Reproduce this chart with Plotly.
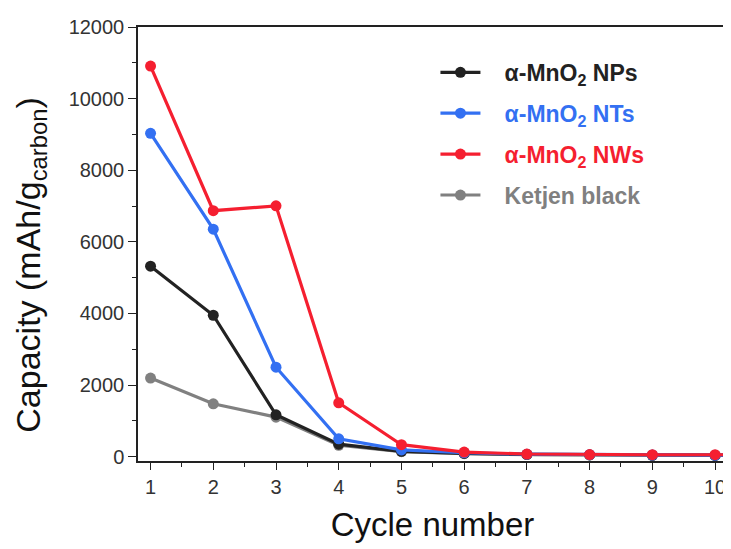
import plotly.graph_objects as go

cycles = [1, 2, 3, 4, 5, 6, 7, 8, 9, 10, 11]
nps = [5320, 3950, 1170, 350, 150, 90, 65, 50, 40, 35, 35]
nts = [9030, 6355, 2500, 500, 190, 110, 70, 55, 45, 40, 40]
nws = [10910, 6870, 7005, 1505, 335, 130, 75, 60, 55, 55, 55]
ketjen = [2195, 1478, 1105, 320, 140, 85, 60, 50, 40, 35, 35]

series = [
    ("α-MnO<sub>2</sub> NPs", nps, "#222222"),
    ("α-MnO<sub>2</sub> NTs", nts, "#3370F2"),
    ("α-MnO<sub>2</sub> NWs", nws, "#F51F30"),
    ("Ketjen black", ketjen, "#808080"),
]

font = "Liberation Sans, Arial, sans-serif"
fig = go.Figure()

order = [3, 0, 1, 2]
for idx in order:
    name, vals, col = series[idx]
    fig.add_trace(go.Scatter(
        x=cycles, y=vals, mode="lines+markers",
        name=f"   <b><span style='color:{col}'>{name}</span></b>",
        line=dict(color=col, width=3.2),
        marker=dict(color=col, size=11, symbol="circle"),
        legendgroup=f"g{idx}", legendrank=idx,
    ))

fig.update_layout(
    width=723, height=541,
    margin=dict(l=130, r=2, t=19, b=88),
    paper_bgcolor="white", plot_bgcolor="white",
    font=dict(family=font, color="#222222"),
    showlegend=True,
    legend=dict(
        x=0.505, y=0.945, xanchor="left", yanchor="top",
        bgcolor="rgba(0,0,0,0)", borderwidth=0,
        font=dict(size=23, family=font),
        traceorder="grouped", tracegroupgap=8,
        itemwidth=40,
    ),
    annotations=[dict(
        text="Capacity (mAh/g<sub>carbon</sub>)", textangle=-90,
        xref="paper", yref="paper", x=0, y=0.45, xanchor="center", yanchor="middle",
        xshift=-107, showarrow=False,
        font=dict(size=34, color="#111111", family=font),
    )],
)
fig.update_xaxes(
    range=[0.8, 10.19], tickvals=list(range(1, 11)),
    showline=True, linecolor="#222222", linewidth=1.5, mirror=True,
    ticks="outside", ticklen=7, tickwidth=1.3, tickcolor="#222222",
    minor=dict(ticks="outside", ticklen=4, tickwidth=1.3, tickcolor="#222222", dtick=0.5, tick0=0.5),
    showgrid=False, zeroline=False,
    tickfont=dict(size=20, color="#333333", family=font),
    title=dict(text="Cycle number", font=dict(size=33, color="#111111", family=font), standoff=16),
)
fig.update_yaxes(
    range=[-120, 12000], tickvals=[0, 2000, 4000, 6000, 8000, 10000, 12000], tickformat="d",
    showline=True, linecolor="#222222", linewidth=1.5, mirror=True,
    ticks="outside", ticklen=8, tickwidth=1.3, tickcolor="#222222",
    minor=dict(ticks="outside", ticklen=4, tickwidth=1.3, tickcolor="#222222", dtick=1000, tick0=1000),
    showgrid=False, zeroline=False,
    tickfont=dict(size=20, color="#333333", family=font),
)

fig.write_html("out.html")
